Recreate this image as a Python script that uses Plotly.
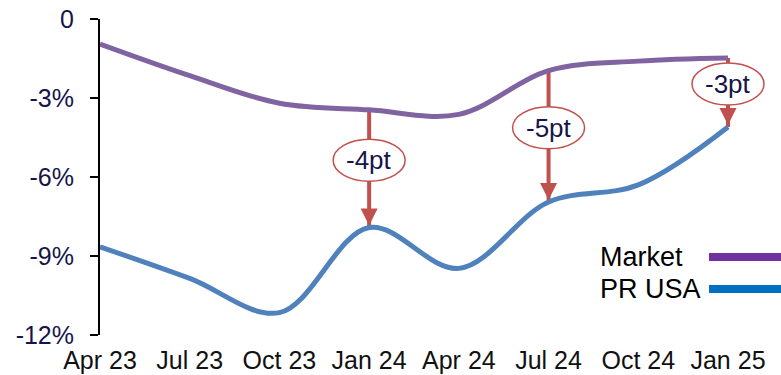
import plotly.graph_objects as go

# Quarterly change, in %, for the market and for PR USA
quarters = ["Apr 23", "Jul 23", "Oct 23", "Jan 24", "Apr 24", "Jul 24", "Oct 24", "Jan 25"]
market = [-0.95, -2.15, -3.2, -3.45, -3.62, -1.96, -1.6, -1.48]
pr_usa = [-8.65, -9.85, -11.15, -7.92, -9.47, -6.95, -6.3, -4.1]

# Quarters where the gap between the two series is called out
gap_quarters = ["Jan 24", "Jul 24", "Jan 25"]

y_ticks = [0, -3, -6, -9, -12]
y_tick_labels = ["0", "-3%", "-6%", "-9%", "-12%"]

FONT = "Liberation Sans, Arial, sans-serif"
NAVY = "#15154a"
RED = "#C0504D"
MARKET_COLOR = "#8064A2"
PR_COLOR = "#4F81BD"

xs = list(range(len(quarters)))

fig = go.Figure()
fig.add_trace(go.Scatter(
    x=xs, y=market, mode="lines", name="Market",
    line=dict(color=MARKET_COLOR, width=5, shape="spline", smoothing=1),
    hoverinfo="skip",
))
fig.add_trace(go.Scatter(
    x=xs, y=pr_usa, mode="lines", name="PR USA",
    line=dict(color=PR_COLOR, width=5, shape="spline", smoothing=1),
    hoverinfo="skip",
))

shapes = []
annotations = []

# Gap arrows with an oval badge showing the rounded difference
for q in gap_quarters:
    i = quarters.index(q)
    m, p = market[i], pr_usa[i]
    label = f"-{round(m - p)}pt"
    mid = (m + p) / 2
    shapes.append(dict(
        type="line", xref="x", yref="y", x0=i, x1=i, y0=m, y1=p,
        line=dict(color=RED, width=4), layer="below",
    ))
    shapes.append(dict(
        type="path", xref="x", yref="y", xsizemode="pixel", ysizemode="pixel",
        xanchor=i, yanchor=p, path="M-8.5,19 L8.5,19 L0,2 Z",
        fillcolor=RED, line=dict(width=0), layer="above",
    ))
    shapes.append(dict(
        type="circle", xref="x", yref="y", xsizemode="pixel", ysizemode="pixel",
        xanchor=i, yanchor=mid, x0=-36, x1=36, y0=-12.5, y1=29.5,
        fillcolor="white", line=dict(color=RED, width=1.5), layer="above",
    ))
    annotations.append(dict(
        x=i, y=mid, xref="x", yref="y", yshift=8.5, text=label, showarrow=False,
        font=dict(family=FONT, size=26, color=NAVY),
    ))

# Legend drawn as text followed by a line sample
legend_items = [("Market", "#7030A0", 0.2468), ("PR USA", "#0070C0", 0.1456)]
for name, color, ypos in legend_items:
    annotations.append(dict(
        x=0.7313, y=ypos, xref="paper", yref="paper", xanchor="left", yanchor="middle",
        text=name, showarrow=False, font=dict(family=FONT, size=27, color="#000000"),
    ))
    shapes.append(dict(
        type="line", xref="paper", yref="paper", x0=0.8943, x1=1.0, y0=ypos, y1=ypos,
        line=dict(color=color, width=8),
    ))

fig.update_layout(
    width=781, height=375,
    margin=dict(l=100, r=0, t=19, b=40),
    paper_bgcolor="white", plot_bgcolor="white",
    showlegend=False,
    font=dict(family=FONT),
    shapes=shapes,
    annotations=annotations,
    xaxis=dict(
        range=[0, 7 * 681 / 628], tickmode="array", tickvals=xs, ticktext=quarters,
        showgrid=False, zeroline=False, showline=False, ticks="",
        ticklabelstandoff=8,
        tickfont=dict(family=FONT, size=25, color="#111111"),
        fixedrange=True,
    ),
    yaxis=dict(
        range=[-12, 0], tickmode="array", tickvals=y_ticks, ticktext=y_tick_labels,
        showgrid=False, zeroline=False, showline=True, linecolor="#000000", linewidth=2,
        ticks="outside", ticklen=8, tickwidth=2, tickcolor="#000000",
        ticklabelstandoff=11,
        tickfont=dict(family=FONT, size=25, color=NAVY),
        fixedrange=True,
    ),
)

fig.write_html("out.html")
